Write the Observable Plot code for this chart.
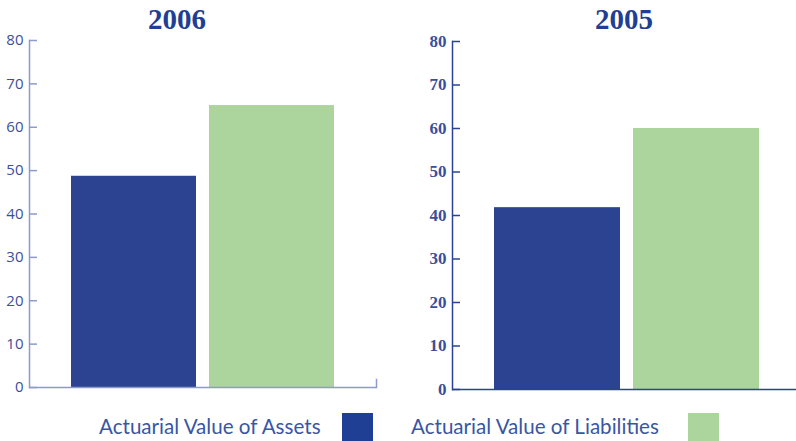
<!DOCTYPE html>
<html>
<head>
<meta charset="utf-8">
<script src="https://cdn.jsdelivr.net/npm/d3@7"></script>
<script src="https://cdn.jsdelivr.net/npm/@observablehq/plot@0.6"></script>
<style>
  html, body { margin: 0; padding: 0; background: #fff; }
  #wrap { position: relative; width: 796px; height: 441px; overflow: hidden; }
  .panel { position: absolute; top: 0; }
  .title { position: absolute; top: 3px; font-family: "Liberation Serif", serif; font-weight: bold; font-size: 29px; color: #1f3f94; transform: translateX(-50%); white-space: nowrap; line-height: 32px; }
  .leg { position: absolute; font-family: Lato, sans-serif; font-size: 20.6px; color: #3a55a4; white-space: nowrap; line-height: 24px; top: 414px; }
  .sw { position: absolute; top: 413px; width: 31px; height: 28px; }
</style>
</head>
<body>
<div id="wrap"></div>
<script>
const years = ["2006", "2005"];
const categories = ["Actuarial Value of Assets", "Actuarial Value of Liabilities"];
const values2006 = [48.7, 65];
const values2005 = [41.8, 60];
const yTicks = [0, 10, 20, 30, 40, 50, 60, 70, 80];
const barColors = ["#2b4391", "#acd59e"];
const swatchColors = ["#1f3f94", "#acd59e"];

const wrap = document.getElementById("wrap");

function panel(values, opt) {
  const data = categories.map((c, i) => ({category: c, value: values[i]}));
  const frameW = opt.width - opt.marginLeft - opt.marginRight;
  const frameH = opt.height - opt.marginTop - opt.marginBottom;
  const marks = [
    Plot.barY(data, {x: "category", y: "value", fill: "category"}),
    Plot.frame({anchor: "left", stroke: opt.axisColor, strokeWidth: 1.5}),
    Plot.ruleY([0], {stroke: opt.axisColor, strokeWidth: 1.5}),
    Plot.tickY(yTicks, {y: d => d, stroke: opt.axisColor, strokeWidth: 1.5, insetRight: frameW - 8}),
    Plot.axisY({ticks: yTicks, tickSize: 0, tickPadding: opt.tickPadding, color: opt.labelColor, label: null,
      fontSize: opt.fontSize, fontFamily: opt.fontFamily, fontWeight: opt.fontWeight, tickFormat: d => String(d)})
  ];
  if (opt.endTick) marks.push(Plot.frame({anchor: "right", stroke: opt.axisColor, strokeWidth: 1.5, insetTop: frameH - 8}));
  return Plot.plot({
    width: opt.width, height: opt.height,
    marginLeft: opt.marginLeft, marginRight: opt.marginRight,
    marginTop: opt.marginTop, marginBottom: opt.marginBottom,
    x: {domain: categories, range: opt.xRange, paddingInner: 0.0935, paddingOuter: 0, axis: null},
    y: {domain: [0, 80], axis: null, label: null},
    color: {domain: categories, range: barColors},
    style: {background: "transparent", overflow: "visible"},
    marks
  });
}

const p1 = panel(values2006, {
  width: 400, height: 400, marginLeft: 29, marginRight: 24, marginTop: 40, marginBottom: 13,
  xRange: [70, 335], axisColor: "#8d9acb", labelColor: "#3b4f9c", tickPadding: 6,
  fontSize: 15, fontFamily: "'Open Sans', sans-serif", fontWeight: "normal", endTick: true
});
p1.classList.add("panel"); p1.style.left = "0px";
wrap.appendChild(p1);

const p2 = panel(values2005, {
  width: 396, height: 400, marginLeft: 52, marginRight: 0, marginTop: 41, marginBottom: 11,
  xRange: [94, 360], axisColor: "#2b4391", labelColor: "#3a4f9a", tickPadding: 6,
  fontSize: 17, fontFamily: "'Liberation Serif', serif", fontWeight: "bold", endTick: false
});
p2.classList.add("panel"); p2.style.left = "400px";
wrap.appendChild(p2);

const titlePos = [177, 624];
years.forEach((y, i) => {
  const d = document.createElement("div");
  d.className = "title"; d.textContent = y; d.style.left = titlePos[i] + "px";
  wrap.appendChild(d);
});

const legText = [99, 411];
const legSw = [342, 688];
categories.forEach((c, i) => {
  const t = document.createElement("div");
  t.className = "leg"; t.textContent = c; t.style.left = legText[i] + "px";
  wrap.appendChild(t);
  const s = document.createElement("div");
  s.className = "sw"; s.style.left = legSw[i] + "px"; s.style.background = swatchColors[i];
  wrap.appendChild(s);
});
</script>
</body>
</html>
